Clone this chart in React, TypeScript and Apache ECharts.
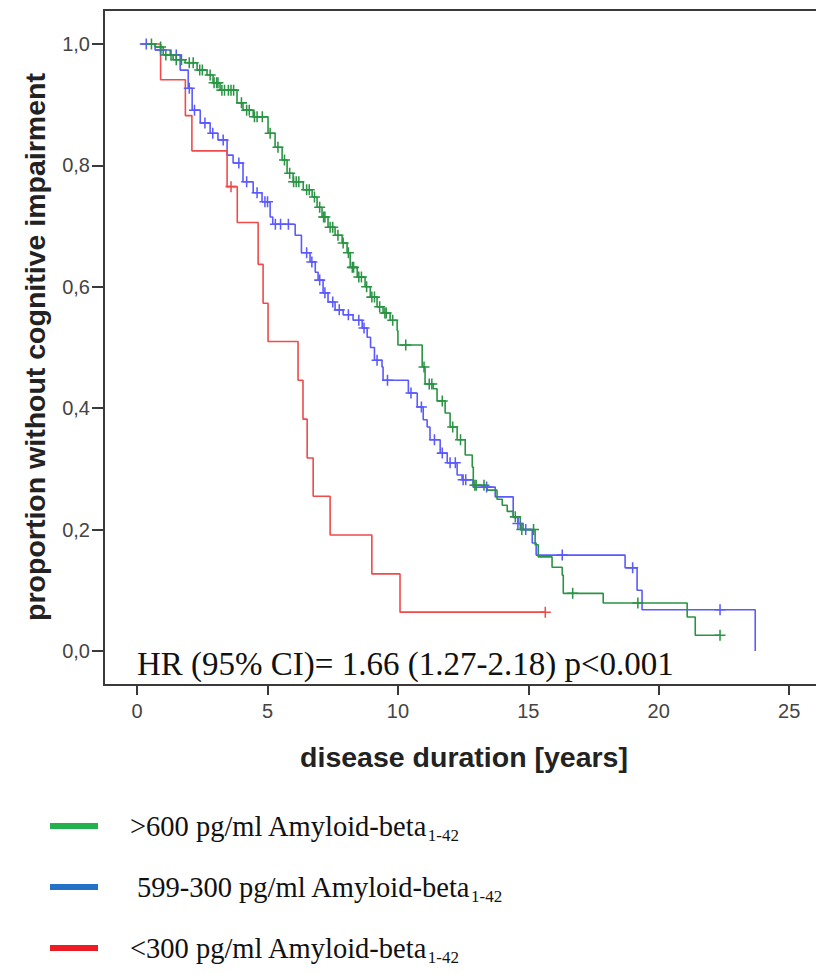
import React, { useEffect, useRef } from "react";
import * as echarts from "echarts";

// ---- data ----
const xTicks = [0, 5, 10, 15, 20, 25];
const yTicks = [0, 0.2, 0.4, 0.6, 0.8, 1.0];

const greenTimes = [0.5, 0.69, 1.0, 1.38, 1.84, 2.3, 2.68, 2.91, 3.18, 3.83, 4.06, 4.45, 5.02, 5.29, 5.56, 5.75, 5.98, 6.37, 6.71, 6.9, 7.09, 7.32, 7.59, 7.86, 8.05, 8.17, 8.44, 8.74, 8.94, 9.2, 9.43, 9.7, 9.97, 10.0, 10.93, 11.04, 11.35, 11.5, 11.81, 12.0, 12.27, 12.58, 12.85, 12.89, 13.42, 13.8, 14.0, 14.19, 14.42, 14.69, 15.26, 15.38, 15.91, 16.3, 16.34, 17.87, 21.09, 21.4, 22.35];
const greenSurv = [1.0, 0.995, 0.982, 0.974, 0.969, 0.957, 0.949, 0.936, 0.924, 0.903, 0.891, 0.88, 0.853, 0.83, 0.809, 0.787, 0.773, 0.76, 0.748, 0.731, 0.715, 0.698, 0.685, 0.672, 0.656, 0.632, 0.616, 0.6, 0.583, 0.567, 0.557, 0.545, 0.528, 0.504, 0.468, 0.44, 0.432, 0.412, 0.392, 0.369, 0.348, 0.323, 0.303, 0.273, 0.265, 0.25, 0.24, 0.23, 0.221, 0.2, 0.175, 0.155, 0.138, 0.125, 0.095, 0.079, 0.056, 0.026, 0.026];
const greenCensored = [0.55, 0.9, 1.1, 1.3, 1.5, 1.7, 2.0, 2.15, 2.4, 2.5, 2.8, 2.95, 3.05, 3.1, 3.25, 3.35, 3.5, 3.6, 3.7, 4.0, 4.2, 4.3, 4.5, 4.6, 4.8, 5.1, 5.4, 5.65, 5.85, 6.0, 6.1, 6.2, 6.5, 6.6, 6.8, 7.0, 7.15, 7.2, 7.4, 7.5, 7.7, 7.9, 8.1, 8.25, 8.3, 8.5, 8.6, 8.8, 9.0, 9.1, 9.3, 9.5, 9.55, 9.8, 10.3, 11.0, 11.2, 11.3, 11.7, 12.1, 12.4, 12.95, 13.0, 13.3, 14.5, 14.75, 15.2, 16.7, 19.2, 22.35];

const blueTimes = [0.1, 0.69, 1.27, 1.65, 1.96, 2.11, 2.42, 2.8, 3.1, 3.45, 3.68, 4.06, 4.45, 4.79, 5.1, 5.2, 6.06, 6.3, 6.63, 6.83, 6.94, 7.13, 7.32, 7.59, 7.9, 8.28, 8.63, 8.82, 8.95, 9.1, 9.39, 9.43, 10.4, 10.74, 10.97, 11.12, 11.23, 11.62, 11.89, 12.27, 12.46, 12.88, 13.73, 14.42, 14.6, 14.8, 15.15, 15.3, 18.71, 19.17, 19.36, 23.7];
const blueSurv = [1.0, 0.99, 0.982, 0.957, 0.927, 0.891, 0.87, 0.853, 0.842, 0.817, 0.804, 0.773, 0.755, 0.74, 0.715, 0.703, 0.685, 0.656, 0.641, 0.624, 0.611, 0.59, 0.575, 0.562, 0.554, 0.545, 0.532, 0.517, 0.5, 0.479, 0.468, 0.446, 0.425, 0.402, 0.381, 0.369, 0.348, 0.326, 0.31, 0.29, 0.282, 0.27, 0.254, 0.22, 0.21, 0.2, 0.178, 0.158, 0.137, 0.1, 0.068, 0.0];
const blueCensored = [0.35, 0.9, 1.5, 2.0, 2.2, 2.6, 2.9, 3.3, 3.9, 4.2, 4.6, 4.9, 5.0, 5.3, 5.5, 5.8, 6.5, 6.7, 7.0, 7.2, 7.5, 7.75, 8.1, 8.5, 8.7, 9.2, 9.6, 10.5, 10.9, 11.4, 11.7, 12.0, 12.2, 12.5, 12.6, 13.4, 14.6, 14.9, 16.3, 19.0, 22.35];

const redTimes = [0.7, 0.9, 1.85, 2.1, 3.45, 3.84, 4.64, 4.83, 5.02, 6.17, 6.36, 6.52, 6.75, 7.4, 9.0, 10.08, 15.65];
const redSurv = [1.0, 0.941, 0.882, 0.824, 0.765, 0.706, 0.637, 0.573, 0.51, 0.446, 0.382, 0.318, 0.255, 0.191, 0.127, 0.064, 0.064];
const redCensored = [3.6, 15.65];

const legendLabels = [">600 pg/ml Amyloid-beta", "599-300 pg/ml Amyloid-beta", "<300 pg/ml Amyloid-beta"];
const legendSub = "1-42";
const hrText = "HR (95% CI)= 1.66 (1.27-2.18) p<0.001";

// ---- styling ----
const curveColors = { green: "#2a9444", blue: "#5a5aff", red: "#f04a4a" };
const legendColors = ["#22b14c", "#2372c6", "#ed1c24"];
const SANS = "Liberation Sans, Arial, sans-serif";
const SERIF = "Liberation Serif, Times New Roman, serif";
const PLUS = "path://M4.3,0H5.7V4.3H10V5.7H5.7V10H4.3V5.7H0V4.3H4.3Z";

function survAt(times: number[], surv: number[], t: number) {
  let v = surv[0];
  for (let i = 0; i < times.length; i++) if (times[i] <= t) v = surv[i];
  return v;
}

function stepSeries(name: string, times: number[], surv: number[], color: string) {
  return {
    name,
    type: "line",
    step: "end",
    showSymbol: false,
    data: times.map((t, i) => [t, surv[i]]),
    lineStyle: { color, width: 1.6 },
    itemStyle: { color },
    z: 3,
  };
}

function censorSeries(name: string, times: number[], surv: number[], cens: number[], color: string) {
  return {
    name,
    type: "scatter",
    symbol: PLUS,
    symbolSize: 11,
    data: cens.map((t) => [t, survAt(times, surv, t)]),
    itemStyle: { color, opacity: 1 },
    z: 4,
  };
}

export default function App() {
  const ref = useRef<HTMLDivElement>(null);
  useEffect(() => {
    if (!ref.current) return;
    const chart = echarts.init(ref.current, undefined, { renderer: "svg" });
    const legendY = [826, 887, 948];
    const legendX = [130, 137, 130];
    const graphic: any[] = [
      {
        type: "text",
        x: 35,
        y: 347,
        rotation: Math.PI / 2,
        style: {
          text: "proportion without cognitive impairment",
          fontFamily: SANS,
          fontWeight: "bold",
          fontSize: 28.5,
          fill: "#222",
          align: "center",
          verticalAlign: "middle",
        },
      },
      {
        type: "text",
        x: 464,
        y: 757,
        style: {
          text: "disease duration [years]",
          fontFamily: SANS,
          fontWeight: "bold",
          fontSize: 28.5,
          fill: "#222",
          align: "center",
          verticalAlign: "middle",
        },
      },
      {
        type: "text",
        x: 137,
        y: 664,
        z: 10,
        style: {
          text: hrText,
          fontFamily: SERIF,
          fontSize: 33,
          fill: "#111",
          align: "left",
          verticalAlign: "middle",
        },
      },
    ];
    legendLabels.forEach((lab, i) => {
      graphic.push({
        type: "rect",
        shape: { x: 50, y: legendY[i] - 3, width: 48, height: 6 },
        style: { fill: legendColors[i] },
      });
      graphic.push({
        type: "text",
        x: legendX[i],
        y: legendY[i],
        style: {
          text: lab + "{s|" + legendSub + "}",
          fontFamily: SERIF,
          fontSize: 28.5,
          lineHeight: 36,
          fill: "#111",
          align: "left",
          verticalAlign: "middle",
          rich: {
            s: { fontFamily: SERIF, fontSize: 17, lineHeight: 17, verticalAlign: "bottom", fill: "#111" },
          },
        },
      });
    });

    chart.setOption({
      animation: false,
      backgroundColor: "#fff",
      grid: {
        left: 104,
        top: 10,
        width: 730,
        height: 675,
        show: true,
        borderColor: "#3a3a3a",
        borderWidth: 2,
        backgroundColor: "transparent",
      },
      xAxis: {
        type: "value",
        min: -1.27,
        max: 26.72,
        axisLine: { show: false, onZero: false },
        splitLine: { show: false },
        axisTick: { show: true, inside: false, length: 10, customValues: xTicks, lineStyle: { color: "#3a3a3a", width: 2 } },
        axisLabel: { customValues: xTicks, margin: 16, fontSize: 20, fontFamily: SANS, color: "#444" },
      },
      yAxis: {
        type: "value",
        min: -0.056,
        max: 1.056,
        axisLine: { show: false, onZero: false },
        splitLine: { show: false },
        axisTick: { show: true, inside: false, length: 12, customValues: yTicks, lineStyle: { color: "#3a3a3a", width: 2 } },
        axisLabel: {
          customValues: yTicks,
          margin: 14,
          fontSize: 20,
          fontFamily: SANS,
          color: "#444",
          formatter: (v: number) => v.toFixed(1).replace(".", ","),
        },
      },
      graphic,
      series: [
        stepSeries("599-300", blueTimes, blueSurv, curveColors.blue),
        censorSeries("599-300 censored", blueTimes, blueSurv, blueCensored, curveColors.blue),
        stepSeries(">600", greenTimes, greenSurv, curveColors.green),
        censorSeries(">600 censored", greenTimes, greenSurv, greenCensored, curveColors.green),
        stepSeries("<300", redTimes, redSurv, curveColors.red),
        censorSeries("<300 censored", redTimes, redSurv, redCensored, curveColors.red),
      ],
    });
    return () => chart.dispose();
  }, []);

  return (
    <div style={{ position: "fixed", left: 0, top: 0, width: 816, height: 974, overflow: "hidden", background: "#fff" }}>
      <div ref={ref} style={{ width: 840, height: 974 }} />
    </div>
  );
}
